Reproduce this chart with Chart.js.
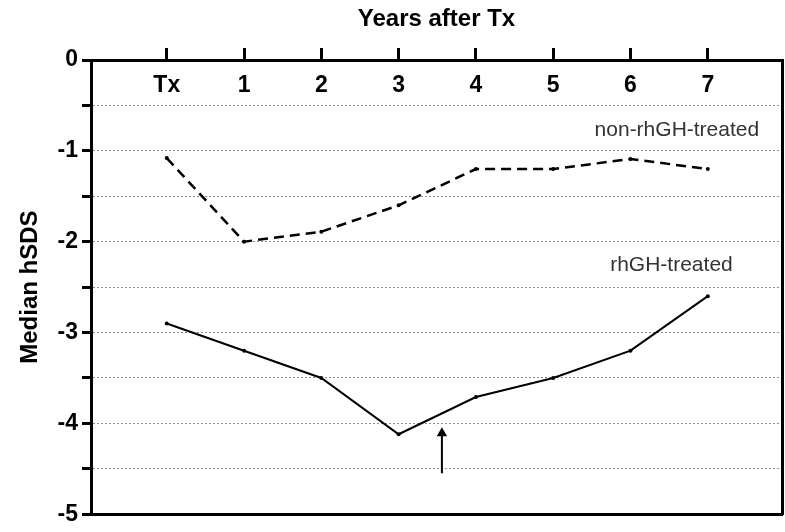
<!DOCTYPE html>
<html>
<head>
<meta charset="utf-8">
<script src="https://cdn.jsdelivr.net/npm/chart.js@4"></script>
<style>
  body { margin: 0; background: #fff; }
</style>
</head>
<body>
<canvas id="chart" width="785" height="532"></canvas>
<script>
// Years after transplantation (Tx = 0)
const yearValues = [0, 1, 2, 3, 4, 5, 6, 7];
const xTickLabels = ["Tx", "1", "2", "3", "4", "5", "6", "7"];

// Median height SDS per group
const nonTreatedSDS = [-1.08, -2.0, -1.89, -1.6, -1.2, -1.2, -1.09, -1.2];
const treatedSDS = [-2.9, -3.2, -3.5, -4.12, -3.71, -3.5, -3.2, -2.6];

// Arrow marking start of rhGH treatment
const arrowX = [3.56, 3.56];
const arrowY = [-4.55, -4.11];

// Group labels placed in data coordinates
const groupLabels = ["non-rhGH-treated", "rhGH-treated"];
const groupLabelX = [6.6, 6.53];
const groupLabelY = [-0.77, -2.26];

Chart.defaults.font.family = "'Liberation Sans', Arial, sans-serif";
Chart.defaults.color = "#000";

function toPoints(xs, ys) {
  return xs.map(function (x, i) { return { x: x, y: ys[i] }; });
}

// draw the group labels next to the lines
const groupLabelPlugin = {
  id: "groupLabels",
  afterDatasetsDraw: function (chart) {
    const ctx = chart.ctx;
    const xs = chart.scales.x;
    const ys = chart.scales.y;
    ctx.save();
    ctx.font = "21px 'Liberation Sans', Arial, sans-serif";
    ctx.fillStyle = "#333";
    ctx.textAlign = "center";
    ctx.textBaseline = "middle";
    groupLabels.forEach(function (txt, i) {
      ctx.fillText(txt, xs.getPixelForValue(groupLabelX[i]), ys.getPixelForValue(groupLabelY[i]));
    });
    ctx.restore();
  }
};

const ctx = document.getElementById("chart").getContext("2d");
new Chart(ctx, {
  type: "line",
  data: {
    datasets: [
      {
        label: "non-rhGH-treated",
        data: toPoints(yearValues, nonTreatedSDS),
        borderColor: "#000",
        backgroundColor: "#000",
        borderWidth: 2.5,
        borderDash: [10, 6],
        pointRadius: 2,
        pointBorderWidth: 0,
        tension: 0
      },
      {
        label: "rhGH-treated",
        data: toPoints(yearValues, treatedSDS),
        borderColor: "#000",
        backgroundColor: "#000",
        borderWidth: 2,
        pointRadius: 2,
        pointBorderWidth: 0,
        tension: 0
      },
      {
        label: "arrow",
        data: toPoints(arrowX, arrowY),
        borderColor: "#000",
        backgroundColor: "#000",
        borderWidth: 2,
        pointStyle: "triangle",
        pointRadius: [0, 6],
        pointBorderWidth: 0,
        tension: 0
      }
    ]
  },
  options: {
    responsive: false,
    animation: false,
    layout: { padding: 0, autoPadding: false },
    plugins: {
      legend: { display: false },
      tooltip: { enabled: false }
    },
    scales: {
      x: {
        type: "linear",
        position: "top",
        min: -0.98,
        max: 7.96,
        afterBuildTicks: function (scale) {
          scale.ticks = yearValues.map(function (v) { return { value: v }; });
        },
        afterFit: function (scale) { scale.height = 60; },
        ticks: {
          mirror: true, // labels go inside the plot, below the top axis line
          padding: 12,
          maxRotation: 0,
          autoSkip: false,
          font: { size: 23, weight: "bold" },
          color: "#000",
          callback: function (value, index) { return xTickLabels[index]; }
        },
        grid: {
          drawOnChartArea: false,
          drawTicks: true,
          tickLength: 12,
          tickWidth: 3,
          tickColor: "#000"
        },
        border: { display: true, color: "#000", width: 3 },
        title: {
          display: true,
          text: "Years after Tx",
          font: { size: 24, weight: "bold" },
          color: "#000",
          padding: { top: 5, bottom: 0 }
        }
      },
      x2: {
        type: "linear",
        position: "bottom",
        min: -0.98,
        max: 7.96,
        afterFit: function (scale) { scale.height = 11; },
        ticks: { display: false },
        grid: { display: false },
        border: { display: true, color: "#000", width: 3 }
      },
      y: {
        type: "linear",
        position: "left",
        min: -5,
        max: 0,
        afterFit: function (scale) { scale.width = 91; },
        ticks: {
          stepSize: 0.5,
          padding: 4,
          autoSkip: false,
          font: { size: 23, weight: "bold" },
          color: "#000",
          callback: function (value) {
            return Math.abs(value - Math.round(value)) < 1e-6 ? String(Math.round(value)) : "";
          }
        },
        grid: {
          color: "#8a8a8a",
          lineWidth: 1,
          tickLength: 9,
          tickWidth: 3,
          tickColor: "#000",
          tickBorderDash: []
        },
        border: { display: true, color: "#000", width: 3, dash: [2, 2] },
        title: {
          display: true,
          text: "Median hSDS",
          font: { size: 24, weight: "bold" },
          color: "#000",
          padding: { top: 16, bottom: 0 }
        }
      },
      y2: {
        type: "linear",
        position: "right",
        min: -5,
        max: 0,
        afterFit: function (scale) { scale.width = 3; },
        ticks: { display: false },
        grid: { display: false },
        border: { display: true, color: "#000", width: 3 }
      }
    }
  },
  plugins: [groupLabelPlugin]
});
</script>
</body>
</html>
